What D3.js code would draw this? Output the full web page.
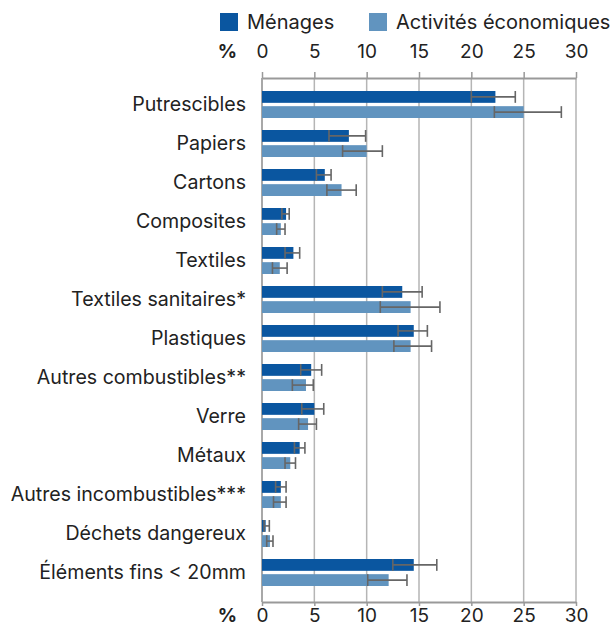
<!DOCTYPE html>
<html>
<head>
<meta charset="utf-8">
<script src="https://cdn.jsdelivr.net/npm/d3@7"></script>
<style>
  html, body { margin: 0; padding: 0; background: #fff; }
  svg { display: block; }
  text { font-family: Inter, "Noto Sans", sans-serif; fill: #222; }
</style>
</head>
<body>
<svg id="chart" width="616" height="626"></svg>
<script>
const categories = ["Putrescibles", "Papiers", "Cartons", "Composites", "Textiles",
  "Textiles sanitaires*", "Plastiques", "Autres combustibles**", "Verre", "Métaux",
  "Autres incombustibles***", "Déchets dangereux", "Éléments fins < 20mm"];
const seriesNames = ["Ménages", "Activités économiques"];
const menages      = [22.3, 8.3, 6.0, 2.3, 3.0, 13.4, 14.5, 4.7, 5.0, 3.6, 1.8, 0.35, 14.5];
const menagesLow   = [20.0, 6.4, 5.2, 1.9, 2.2, 11.5, 13.0, 3.7, 3.8, 3.1, 1.3, 0.2, 12.5];
const menagesHigh  = [24.2, 9.9, 6.6, 2.6, 3.6, 15.3, 15.8, 5.7, 5.9, 4.1, 2.3, 0.7, 16.7];
const activites     = [25.0, 10.0, 7.6, 1.8, 1.7, 14.2, 14.2, 4.2, 4.4, 2.7, 1.8, 0.76, 12.1];
const activitesLow  = [22.2, 7.7, 6.2, 1.4, 1.0, 11.3, 12.6, 2.9, 3.5, 2.2, 1.1, 0.45, 10.1];
const activitesHigh = [28.6, 11.5, 9.0, 2.2, 2.4, 17.0, 16.2, 4.9, 5.2, 3.2, 2.3, 1.05, 13.85];
const tickValues = [0, 5, 10, 15, 20, 25, 30];
const colors = ["#0a56a0", "#6194bf"];

const svg = d3.select("#chart");
const fontSize = 19;
const labelSize = 19.6;

const x = d3.scaleLinear().domain([0, 30]).range([262, 576]);
const y = d3.scaleBand().domain(categories).range([85, 592]).padding(0);
const ySub = d3.scaleBand().domain(seriesNames).range([6, 33]).paddingInner(0.22).paddingOuter(0);

const axisTopY = 78, axisBottomY = 602;

// gridlines
svg.append("g").selectAll("line").data(tickValues).join("line")
  .attr("x1", d => x(d)).attr("x2", d => x(d))
  .attr("y1", axisTopY).attr("y2", axisBottomY)
  .attr("stroke", d => d === 0 ? "#a8a8a8" : "#b5b5b5")
  .attr("stroke-width", d => d === 0 ? 2 : 1.5);

// data rows
const rows = categories.map((c, i) => ({
  cat: c,
  series: [
    { name: seriesNames[0], v: menages[i], lo: menagesLow[i], hi: menagesHigh[i], color: colors[0] },
    { name: seriesNames[1], v: activites[i], lo: activitesLow[i], hi: activitesHigh[i], color: colors[1] }
  ]
}));

const groups = svg.append("g").selectAll("g").data(rows).join("g")
  .attr("transform", d => `translate(0,${y(d.cat)})`);

groups.selectAll("rect").data(d => d.series).join("rect")
  .attr("x", x(0))
  .attr("y", d => ySub(d.name))
  .attr("width", d => x(d.v) - x(0))
  .attr("height", ySub.bandwidth())
  .attr("fill", d => d.color);

const eb = groups.selectAll("g.eb").data(d => d.series).join("g").attr("class", "eb")
  .attr("stroke", "#666").attr("stroke-width", 1.6);
eb.append("line")
  .attr("x1", d => x(d.lo)).attr("x2", d => x(d.hi))
  .attr("y1", d => ySub(d.name) + ySub.bandwidth() / 2)
  .attr("y2", d => ySub(d.name) + ySub.bandwidth() / 2);
eb.append("line")
  .attr("x1", d => x(d.lo)).attr("x2", d => x(d.lo))
  .attr("y1", d => ySub(d.name)).attr("y2", d => ySub(d.name) + ySub.bandwidth());
eb.append("line")
  .attr("x1", d => x(d.hi)).attr("x2", d => x(d.hi))
  .attr("y1", d => ySub(d.name)).attr("y2", d => ySub(d.name) + ySub.bandwidth());

// category labels
svg.append("g").selectAll("text").data(categories).join("text")
  .attr("x", 246)
  .attr("y", d => y(d) + 19.5)
  .attr("dy", "0.35em")
  .attr("text-anchor", "end")
  .style("font-size", labelSize + "px")
  .text(d => d);

// axes
const topAxis = d3.axisTop(x).tickValues(tickValues).tickSizeInner(6).tickSizeOuter(0).tickPadding(14);
const bottomAxis = d3.axisBottom(x).tickValues(tickValues).tickSizeInner(4).tickSizeOuter(0).tickPadding(3);

function styleAxis(g) {
  g.select(".domain").attr("stroke", "#999").attr("stroke-width", 2);
  g.selectAll(".tick line").attr("stroke", "#999").attr("stroke-width", 1.5);
  g.selectAll(".tick text").style("font-size", fontSize + "px")
    .style("font-family", "Inter, 'Noto Sans', sans-serif").attr("fill", "#222");
}
svg.append("g").attr("transform", `translate(0,${axisTopY})`).call(topAxis).call(styleAxis);
svg.append("g").attr("transform", `translate(0,${axisBottomY})`).call(bottomAxis).call(styleAxis);

// % labels
svg.append("text").attr("x", 237).attr("y", axisTopY - 20)
  .attr("text-anchor", "end").style("font-size", fontSize + "px").style("font-weight", "bold").text("%");
svg.append("text").attr("x", 237).attr("y", axisBottomY + 7).attr("dy", "0.71em")
  .attr("text-anchor", "end").style("font-size", fontSize + "px").style("font-weight", "bold").text("%");

// legend
const legendX = [220, 369];
const legend = svg.append("g").selectAll("g").data(seriesNames).join("g")
  .attr("transform", (d, i) => `translate(${legendX[i]},13)`);
legend.append("rect").attr("width", 18).attr("height", 18).attr("fill", (d, i) => colors[i]);
legend.append("text").attr("x", 27).attr("y", 9).attr("dy", "0.35em")
  .style("font-size", "20px").text(d => d);
</script>
</body>
</html>
